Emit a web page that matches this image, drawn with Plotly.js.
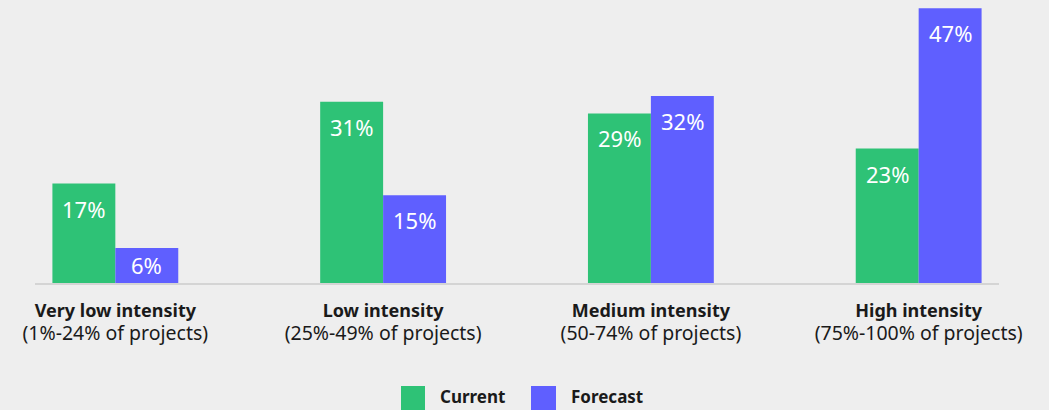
<!DOCTYPE html>
<html>
<head>
<meta charset="utf-8">
<script src="https://cdn.plot.ly/plotly-3.0.1.min.js"></script>
<style>
html,body{margin:0;padding:0;background:#eeeeee;}
#chart{width:1049px;height:410px;}
</style>
</head>
<body>
<div id="chart"></div>
<script>
// ---- data ----
const categories = ["Very low intensity", "Low intensity", "Medium intensity", "High intensity"];
const categoryRanges = ["(1%-24% of projects)", "(25%-49% of projects)", "(50-74% of projects)", "(75%-100% of projects)"];
const seriesNames = ["Current", "Forecast"];
const currentValues = [17, 31, 29, 23];
const forecastValues = [6, 15, 32, 47];

// ---- styles ----
const colors = ["#2ec276", "#5f5fff"];
const bg = "#eeeeee";
const fontFamily = "'Noto Sans', 'Open Sans', sans-serif";
const W = 1049, H = 410;
const margin = {l: 35, r: 50, t: 0, b: 127};
const yMax = 48.4;
const xRange = [-0.3, 3.3];
const plotW = W - margin.l - margin.r;
const plotH = H - margin.t - margin.b;
const pxPerUnitY = plotH / yMax;
const bargap = 0.53;
const barPx = plotW / (xRange[1] - xRange[0]) * (1 - bargap) / 2;

const seriesValues = [currentValues, forecastValues];

const traces = seriesValues.map((vals, s) => ({
  type: "bar",
  name: seriesNames[s],
  x: categories,
  y: vals,
  marker: {color: colors[s], line: {width: 0}},
  hoverinfo: "skip",
  showlegend: false
}));

const annotations = [];
seriesValues.forEach((vals, s) => {
  vals.forEach((v, i) => {
    const hPx = v * pxPerUnitY;
    annotations.push({
      x: categories[i], y: v, xref: "x", yref: "y",
      xshift: (s === 0 ? -1 : 1) * barPx / 2,
      yshift: -Math.min(25, hPx / 2),
      yanchor: "middle", xanchor: "center",
      text: v + "%", showarrow: false,
      font: {family: fontFamily, size: 22, color: "#ffffff"}
    });
  });
});

// custom legend (large square swatches)
const legendX = [[401, 425, 438], [531, 556, 569]];
const shapes = [];
seriesNames.forEach((n, s) => {
  const [x0, x1, tx] = legendX[s];
  shapes.push({
    type: "rect", xref: "paper", yref: "paper",
    x0: (x0 - margin.l) / plotW, x1: (x1 - margin.l) / plotW,
    y0: (margin.t + plotH - 386) / plotH, y1: (margin.t + plotH - 410) / plotH,
    fillcolor: colors[s], line: {width: 0}
  });
  annotations.push({
    xref: "paper", yref: "paper",
    x: (tx - margin.l) / plotW, y: (margin.t + plotH - 396) / plotH,
    xanchor: "left", yanchor: "middle",
    text: "<b>" + n + "</b>", showarrow: false,
    font: {family: fontFamily, size: 17, color: "#1a1a1a"}
  });
});

const ticktext = categories.map((c, i) =>
  "<b>" + c + "</b><br><span style='font-size:19.5px'>" + categoryRanges[i] + "</span>");

const layout = {
  width: W, height: H,
  margin: margin,
  paper_bgcolor: bg, plot_bgcolor: bg,
  barmode: "group",
  bargap: bargap, bargroupgap: 0,
  showlegend: false,
  font: {family: fontFamily, color: "#1a1a1a"},
  xaxis: {
    type: "category",
    range: xRange,
    tickvals: categories,
    ticktext: ticktext,
    tickfont: {family: fontFamily, size: 18, color: "#1a1a1a"},
    ticks: "",
    ticklabelstandoff: 10,
    showline: true, linecolor: "#d4d4d4", linewidth: 2,
    showgrid: false, zeroline: false,
    fixedrange: true
  },
  yaxis: {
    range: [0, yMax],
    visible: false,
    showgrid: false, zeroline: false,
    fixedrange: true
  },
  shapes: shapes,
  annotations: annotations
};

Plotly.newPlot("chart", traces, layout, {displayModeBar: false, staticPlot: true});
</script>
</body>
</html>
